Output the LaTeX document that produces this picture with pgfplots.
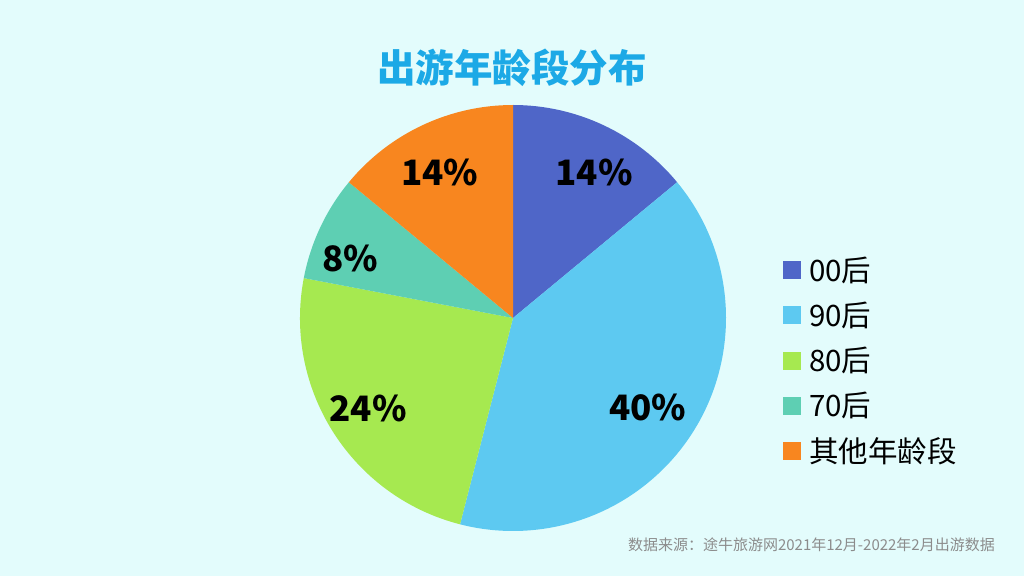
\documentclass[border=0pt]{standalone}
\usepackage{pgfplots}
\pgfplotsset{compat=1.18}
\usepackage{pgfplotstable}
\usepackage{fontspec}
\setmainfont{Noto Sans CJK SC}
\definecolor{bg}{HTML}{E3FCFC}
\definecolor{titlec}{HTML}{1CA9E6}
\definecolor{srcc}{HTML}{8C8C8C}
\definecolor{c1}{HTML}{4F66C8}
\definecolor{c2}{HTML}{5DC9F1}
\definecolor{c3}{HTML}{A6E950}
\definecolor{c4}{HTML}{5ECFB3}
\definecolor{c5}{HTML}{F8861F}
\newcommand\labelfont{\fontsize{35}{40}\selectfont\bfseries}
\newcommand\legfont{\fontsize{29.5}{32}\selectfont}

% value, colour, label angle and label radius (px)
\pgfplotstableread{
name value col la lr
00后 14 c1 61.3 168.7
90后 40 c2 -33.1 161
80后 24 c3 -148.7 169.6
70后 8 c4 159.2 174.4
其他年龄段 14 c5 116.3 165
}\piedata

\begin{document}
\begin{tikzpicture}
\begin{axis}[scale only axis, width=1024pt, height=576pt,
  xmin=0, xmax=1024, ymin=0, ymax=576, hide axis, clip=false]
\fill[bg] (axis cs:0,0) rectangle (axis cs:1024,576);
\def\cum{90}
\pgfplotsforeachungrouped \i in {0,...,4}{%
  \pgfplotstablegetelem{\i}{value}\of\piedata \let\sval\pgfplotsretval
  \pgfplotstablegetelem{\i}{col}\of\piedata \let\scol\pgfplotsretval
  \pgfplotstablegetelem{\i}{name}\of\piedata \let\sname\pgfplotsretval
  \pgfplotstablegetelem{\i}{la}\of\piedata \let\sla\pgfplotsretval
  \pgfplotstablegetelem{\i}{lr}\of\piedata \let\slr\pgfplotsretval
  \pgfmathsetmacro\sa{\cum}%
  \pgfmathsetmacro\sb{\cum-3.6*\sval}%
  \pgfmathsetmacro\ly{306-45.25*\i}%
  \pgfmathsetmacro\lya{\ly-9}%
  \pgfmathsetmacro\lyb{\ly+9}%
  \edef\cmd{%
    \noexpand\fill[\scol] (axis cs:513,258) -- ++(\sa:213pt) arc[start angle=\sa, end angle=\sb, radius=213pt] -- cycle;
    \noexpand\path (axis cs:513,256) ++(\sla:\slr pt) node[font=\noexpand\labelfont, text=black]{\sval\noexpand\%};
    \noexpand\fill[\scol] (axis cs:783,\lya) rectangle (axis cs:801,\lyb);
    \noexpand\node[anchor=west, inner sep=0pt, font=\noexpand\legfont, text=black] at (axis cs:809,\ly) {\sname};
  }%
  \cmd
  \let\cum\sb
}
\node[font=\fontsize{38.5}{42}\selectfont\bfseries, text=titlec] at (axis cs:512,508) {出游年龄段分布};
\node[anchor=east, inner sep=0pt, font=\fontsize{15}{18}\selectfont, text=srcc] at (axis cs:995,31) {数据来源：途牛旅游网2021年12月-2022年2月出游数据};
\end{axis}
\end{tikzpicture}
\end{document}
